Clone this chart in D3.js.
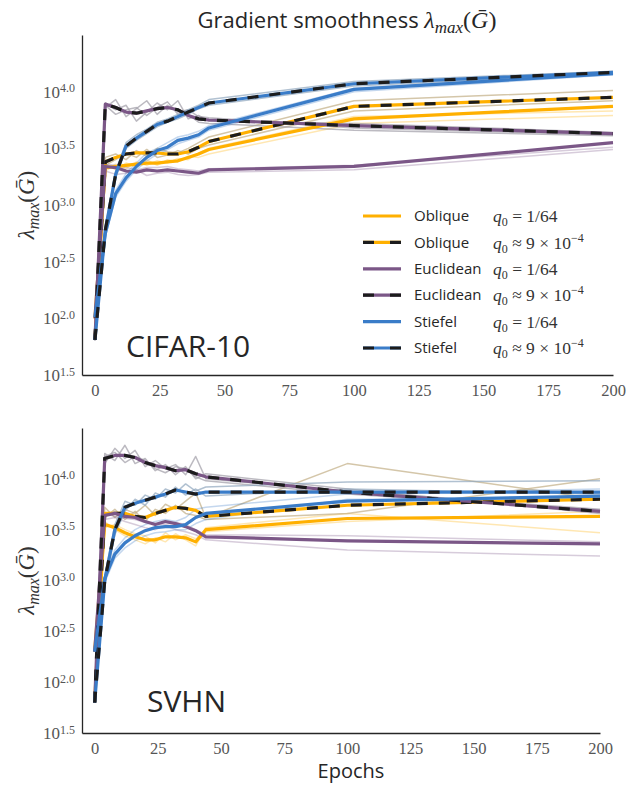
<!DOCTYPE html>
<html>
<head>
<meta charset="utf-8">
<script src="https://cdn.jsdelivr.net/npm/d3@7"></script>
<style>
  body { margin: 0; background: #fff; }
  .sans { font-family: "Open Sans", "DejaVu Sans", sans-serif; }
  .serif { font-family: "Liberation Serif", "DejaVu Serif", serif; }
</style>
</head>
<body>
<div id="chart"></div>
<script>
// epochs where lambda_max was measured
var epochs = [0, 4, 8, 12, 16, 20, 24, 28, 32, 36, 40, 44, 100, 200];
var xTicks = [0, 25, 50, 75, 100, 125, 150, 175, 200];
var yTicks = [1.5, 2.0, 2.5, 3.0, 3.5, 4.0];   // log10 exponents

// all values are log10(lambda_max)
// ---- CIFAR-10, mean curves
var cifarObliqueA   = [2.00, 3.33, 3.34, 3.35, 3.36, 3.37, 3.37, 3.38, 3.39, 3.42, 3.45, 3.49, 3.76, 3.87];
var cifarObliqueB   = [1.81, 3.38, 3.42, 3.45, 3.46, 3.46, 3.46, 3.45, 3.45, 3.47, 3.51, 3.56, 3.87, 3.95];
var cifarEuclideanA = [2.00, 3.34, 3.33, 3.30, 3.29, 3.31, 3.30, 3.31, 3.30, 3.29, 3.28, 3.31, 3.34, 3.55];
var cifarEuclideanB = [1.81, 3.89, 3.86, 3.82, 3.81, 3.83, 3.85, 3.86, 3.84, 3.79, 3.76, 3.75, 3.70, 3.63];
var cifarStiefelA   = [2.01, 2.75, 3.10, 3.24, 3.34, 3.42, 3.48, 3.51, 3.57, 3.59, 3.62, 3.68, 4.02, 4.16];
var cifarStiefelB   = [1.81, 2.78, 3.27, 3.52, 3.59, 3.65, 3.71, 3.74, 3.78, 3.82, 3.86, 3.90, 4.07, 4.17];

// ---- CIFAR-10, single runs
var cifarObliqueARuns = [
  [2.00, 3.30, 3.36, 3.32, 3.38, 3.35, 3.39, 3.37, 3.41, 3.40, 3.46, 3.50, 3.78, 3.83],
  [2.00, 3.36, 3.31, 3.37, 3.34, 3.40, 3.35, 3.40, 3.38, 3.43, 3.42, 3.45, 3.72, 3.79]
];
var cifarObliqueBRuns = [
  [1.81, 3.42, 3.45, 3.40, 3.48, 3.43, 3.50, 3.47, 3.46, 3.50, 3.55, 3.60, 3.92, 4.01],
  [1.81, 3.35, 3.40, 3.46, 3.42, 3.49, 3.42, 3.44, 3.48, 3.45, 3.50, 3.53, 3.83, 3.92]
];
var cifarEuclideanARuns = [
  [2.02, 3.30, 3.27, 3.28, 3.31, 3.26, 3.28, 3.29, 3.27, 3.26, 3.27, 3.29, 3.31, 3.49],
  [1.98, 3.36, 3.35, 3.33, 3.31, 3.33, 3.33, 3.34, 3.32, 3.31, 3.30, 3.32, 3.35, 3.51]
];
var cifarEuclideanBRuns = [
  [1.80, 3.86, 3.93, 3.78, 3.85, 3.92, 3.80, 3.88, 3.82, 3.84, 3.78, 3.77, 3.68, 3.62],
  [1.82, 3.90, 3.84, 3.88, 3.74, 3.82, 3.90, 3.84, 3.92, 3.76, 3.79, 3.74, 3.72, 3.64],
  [1.81, 3.88, 3.80, 3.84, 3.86, 3.79, 3.86, 3.91, 3.80, 3.80, 3.73, 3.72, 3.66, 3.61]
];
var cifarStiefelARuns = [
  [2.01, 2.78, 3.13, 3.28, 3.37, 3.46, 3.50, 3.55, 3.60, 3.62, 3.65, 3.70, 4.03, 4.17],
  [2.01, 2.72, 3.07, 3.21, 3.31, 3.39, 3.45, 3.49, 3.54, 3.57, 3.60, 3.66, 4.00, 4.15]
];
var cifarStiefelBRuns = [
  [1.81, 2.80, 3.30, 3.55, 3.62, 3.67, 3.73, 3.76, 3.80, 3.84, 3.88, 3.93, 4.09, 4.18],
  [1.81, 2.76, 3.24, 3.50, 3.57, 3.63, 3.69, 3.73, 3.76, 3.80, 3.85, 3.88, 4.05, 4.16]
];

// ---- SVHN, mean curves
var svhnObliqueA   = [2.30, 3.55, 3.52, 3.47, 3.43, 3.40, 3.40, 3.43, 3.43, 3.42, 3.38, 3.50, 3.61, 3.63];
var svhnObliqueB   = [1.80, 3.66, 3.66, 3.66, 3.63, 3.62, 3.66, 3.69, 3.72, 3.71, 3.69, 3.63, 3.74, 3.80];
var svhnEuclideanA = [2.30, 3.64, 3.66, 3.63, 3.62, 3.58, 3.55, 3.58, 3.56, 3.53, 3.49, 3.43, 3.39, 3.36];
var svhnEuclideanB = [1.80, 4.20, 4.23, 4.23, 4.21, 4.16, 4.13, 4.11, 4.08, 4.09, 4.05, 4.02, 3.87, 3.68];
var svhnStiefelA   = [2.30, 3.02, 3.26, 3.37, 3.44, 3.49, 3.52, 3.53, 3.53, 3.55, 3.62, 3.66, 3.78, 3.83];
var svhnStiefelB   = [1.80, 3.00, 3.50, 3.72, 3.76, 3.79, 3.82, 3.85, 3.89, 3.87, 3.85, 3.87, 3.87, 3.87];

// ---- SVHN, single runs
var svhnObliqueARuns = [
  [2.30, 3.58, 3.50, 3.44, 3.40, 3.36, 3.42, 3.38, 3.46, 3.40, 3.34, 3.52, 3.66, 3.47],
  [2.30, 3.52, 3.55, 3.50, 3.46, 3.44, 3.37, 3.47, 3.40, 3.45, 3.41, 3.48, 3.58, 3.68]
];
var svhnObliqueBRuns = [
  [1.80, 3.72, 3.62, 3.70, 3.66, 3.74, 3.64, 3.75, 3.70, 3.78, 3.86, 3.62, 4.15, 3.80],
  [1.80, 3.62, 3.70, 3.60, 3.68, 3.58, 3.70, 3.66, 3.74, 3.66, 3.64, 3.60, 3.66, 4.00]
];
var svhnEuclideanARuns = [
  [2.30, 3.60, 3.62, 3.58, 3.55, 3.52, 3.50, 3.54, 3.50, 3.48, 3.45, 3.40, 3.30, 3.24],
  [2.30, 3.66, 3.63, 3.61, 3.60, 3.57, 3.56, 3.55, 3.57, 3.55, 3.50, 3.45, 3.44, 3.38]
];
var svhnEuclideanBRuns = [
  [1.80, 4.15, 4.30, 4.20, 4.28, 4.12, 4.18, 4.10, 4.14, 4.04, 4.22, 4.00, 3.88, 3.70],
  [1.80, 4.25, 4.18, 4.33, 4.15, 4.20, 4.08, 4.14, 4.04, 4.12, 4.00, 4.05, 3.90, 3.66],
  [1.80, 4.22, 4.26, 4.16, 4.22, 4.18, 4.10, 4.06, 4.12, 4.10, 4.02, 3.98, 3.85, 3.69]
];
var svhnStiefelARuns = [
  [2.30, 3.06, 3.30, 3.42, 3.50, 3.55, 3.58, 3.60, 3.58, 3.62, 3.70, 3.72, 3.85, 3.90],
  [2.30, 2.98, 3.22, 3.32, 3.39, 3.44, 3.47, 3.48, 3.50, 3.50, 3.56, 3.60, 3.80, 3.80]
];
var svhnStiefelBRuns = [
  [1.80, 3.05, 3.55, 3.78, 3.74, 3.84, 3.80, 3.90, 3.86, 3.95, 3.88, 3.92, 3.97, 3.98],
  [1.80, 2.95, 3.45, 3.68, 3.80, 3.74, 3.86, 3.82, 3.92, 3.84, 3.90, 3.83, 3.90, 3.85]
];

var colors = { Oblique: "#ffb000", Euclidean: "#7b5787", Stiefel: "#3a7cc8" };
var runColorsB = { Oblique: "#c2ae84", Euclidean: "#a09ca6", Stiefel: "#90a6bd" };
var legendRows = [
  { name: "Oblique", dashed: false }, { name: "Oblique", dashed: true },
  { name: "Euclidean", dashed: false }, { name: "Euclidean", dashed: true },
  { name: "Stiefel", dashed: false }, { name: "Stiefel", dashed: true }
];

var W = 626, H = 787;
var svg = d3.select("#chart").append("svg")
    .attr("width", W)
    .attr("height", H);

function drawPanel(p) {
  var g = svg.append("g");
  var x = d3.scaleLinear().domain([-5, 200]).range([p.left, p.right]);
  var y = d3.scaleLinear().domain([1.5, 4.5]).range([p.bottom, p.top]);
  var line = d3.line()
      .x(function(d, i) { return x(epochs[i]); })
      .y(function(d) { return y(d); });

  // faint single runs first
  p.series.forEach(function(s) {
    s.runs.forEach(function(r) {
      g.append("path")
        .attr("d", line(r))
        .attr("fill", "none")
        .attr("stroke", s.dashed ? runColorsB[s.name] : colors[s.name])
        .attr("stroke-opacity", s.dashed ? 0.7 : 0.3)
        .attr("stroke-width", 1.5)
        .attr("stroke-linejoin", "round");
    });
  });

  // mean curves
  p.series.forEach(function(s) {
    g.append("path")
      .attr("d", line(s.mean))
      .attr("fill", "none")
      .attr("stroke", colors[s.name])
      .attr("stroke-width", 3.2)
      .attr("stroke-linejoin", "round");
    if (s.dashed) {
      g.append("path")
        .attr("d", line(s.mean))
        .attr("fill", "none")
        .attr("stroke", "#1c1c1c")
        .attr("stroke-width", 3.2)
        .attr("stroke-dasharray", "11,11");
    }
  });

  // axes
  var xAxis = g.append("g")
      .attr("transform", "translate(0," + p.bottom + ")")
      .call(d3.axisBottom(x).tickValues(xTicks).tickSize(0).tickSizeOuter(0).tickPadding(9));
  xAxis.selectAll("text")
      .attr("class", "serif")
      .style("font-size", "16.5px")
      .attr("fill", "#555");

  var yAxis = g.append("g")
      .attr("transform", "translate(" + p.left + ",0)")
      .call(d3.axisLeft(y).tickValues(yTicks).tickSize(0).tickSizeOuter(0).tickPadding(7));
  yAxis.selectAll("text")
      .attr("class", "serif")
      .attr("fill", "#555")
      .style("font-size", "17px")
      .each(function(d) {
        var t = d3.select(this).text("");
        t.append("tspan").text("10");
        t.append("tspan").attr("dy", "-0.45em").style("font-size", "12px").text(d.toFixed(1));
      });

  [xAxis, yAxis].forEach(function(a) {
    a.select(".domain").attr("stroke", "#262626").attr("stroke-width", 1.3);
  });

  // y label
  var yl = g.append("text")
      .attr("class", "serif")
      .attr("transform", "translate(34," + ((p.top + p.bottom) / 2) + ") rotate(-90)")
      .attr("text-anchor", "middle")
      .attr("fill", "#333")
      .style("font-size", "23px");
  yl.append("tspan").style("font-style", "italic").text("λ");
  yl.append("tspan").style("font-style", "italic").style("font-size", "16px").attr("dy", "5").text("max");
  yl.append("tspan").attr("dy", "-5").text("(");
  yl.append("tspan").style("font-style", "italic").text("G\u0304");
  yl.append("tspan").text(")");

  // dataset label
  g.append("text")
    .attr("class", "sans")
    .attr("x", p.nameX)
    .attr("y", p.nameY)
    .attr("fill", "#262626")
    .style("font-size", "30px")
    .text(p.name);

  return { x: x, y: y, g: g };
}

function series(a, b, c, d, e, f, ra, rb, rc, rd, re, rf) {
  return [
    { name: "Oblique", dashed: false, mean: a, runs: ra },
    { name: "Oblique", dashed: true, mean: b, runs: rb },
    { name: "Euclidean", dashed: false, mean: c, runs: rc },
    { name: "Euclidean", dashed: true, mean: d, runs: rd },
    { name: "Stiefel", dashed: false, mean: e, runs: re },
    { name: "Stiefel", dashed: true, mean: f, runs: rf }
  ];
}

drawPanel({
  name: "CIFAR-10", nameX: 126, nameY: 357,
  left: 82, right: 613, top: 35, bottom: 375,
  series: series(cifarObliqueA, cifarObliqueB, cifarEuclideanA, cifarEuclideanB, cifarStiefelA, cifarStiefelB,
                 cifarObliqueARuns, cifarObliqueBRuns, cifarEuclideanARuns, cifarEuclideanBRuns, cifarStiefelARuns, cifarStiefelBRuns)
});

drawPanel({
  name: "SVHN", nameX: 147, nameY: 712,
  left: 82, right: 600, top: 428, bottom: 733,
  series: series(svhnObliqueA, svhnObliqueB, svhnEuclideanA, svhnEuclideanB, svhnStiefelA, svhnStiefelB,
                 svhnObliqueARuns, svhnObliqueBRuns, svhnEuclideanARuns, svhnEuclideanBRuns, svhnStiefelARuns, svhnStiefelBRuns)
});

// title
var title = svg.append("text")
    .attr("x", 347)
    .attr("y", 28)
    .attr("text-anchor", "middle")
    .attr("fill", "#262626")
    .style("font-size", "22px");
title.append("tspan").attr("class", "sans").text("Gradient smoothness ");
title.append("tspan").attr("class", "serif").style("font-style", "italic").style("font-size", "24px").text("λ");
title.append("tspan").attr("class", "serif").style("font-style", "italic").style("font-size", "17px").attr("dy", "5").text("max");
title.append("tspan").attr("class", "serif").style("font-size", "24px").attr("dy", "-5").text("(");
title.append("tspan").attr("class", "serif").style("font-style", "italic").style("font-size", "24px").text("G\u0304");
title.append("tspan").attr("class", "serif").style("font-size", "24px").text(")");

// x label
svg.append("text")
  .attr("class", "sans")
  .attr("x", 351)
  .attr("y", 778)
  .attr("text-anchor", "middle")
  .attr("fill", "#262626")
  .style("font-size", "20px")
  .text("Epochs");

// legend (top panel only)
var legend = svg.append("g").attr("transform", "translate(363,216)");
legendRows.forEach(function(r, i) {
  var row = legend.append("g").attr("transform", "translate(0," + (i * 26.4) + ")");
  row.append("line")
    .attr("x1", 0).attr("x2", 38)
    .attr("stroke", colors[r.name])
    .attr("stroke-width", 3.2);
  if (r.dashed) {
    row.append("line")
      .attr("x1", 0).attr("x2", 38)
      .attr("stroke", "#1c1c1c")
      .attr("stroke-width", 3.2)
      .attr("stroke-dasharray", "11,16");
  }
  row.append("text")
    .attr("class", "sans")
    .attr("x", 51)
    .attr("dy", "0.35em")
    .attr("fill", "#262626")
    .style("font-size", "15px")
    .text(r.name);
  var m = row.append("text")
    .attr("class", "serif")
    .attr("x", 130)
    .attr("dy", "0.35em")
    .attr("fill", "#333")
    .style("font-size", "17.5px");
  m.append("tspan").style("font-style", "italic").text("q");
  m.append("tspan").style("font-size", "12px").attr("dy", "4").text("0");
  if (r.dashed) {
    m.append("tspan").attr("dy", "-4").text(" ≈ 9 × 10");
    m.append("tspan").style("font-size", "12px").attr("dy", "-7").text("−4");
  } else {
    m.append("tspan").attr("dy", "-4").text(" = 1/64");
  }
});
</script>
</body>
</html>
